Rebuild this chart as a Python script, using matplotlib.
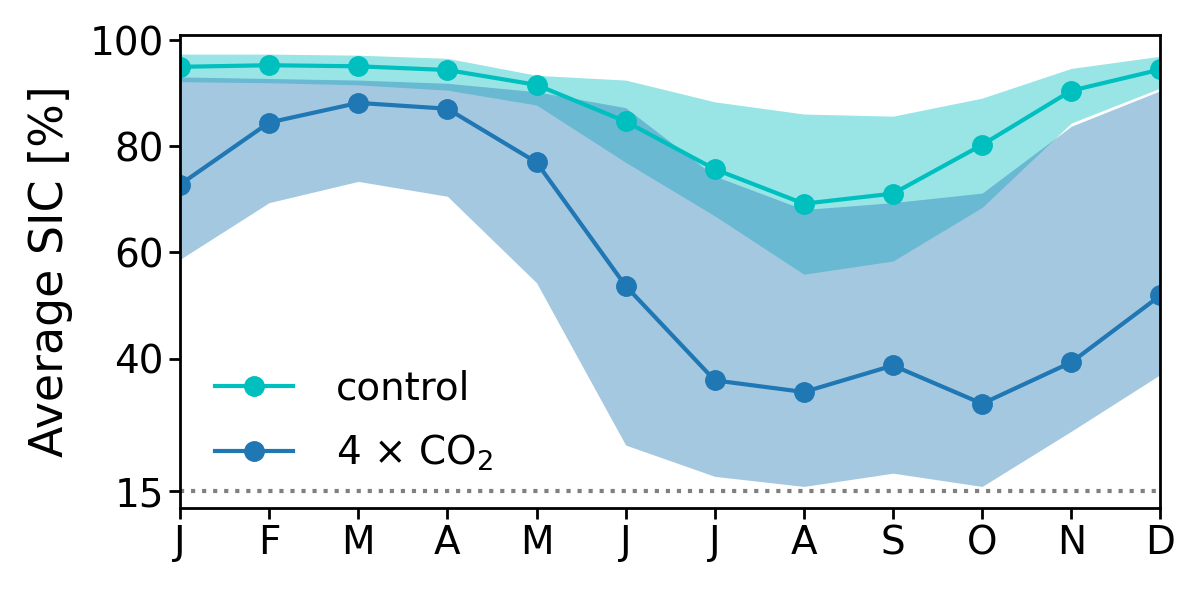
import numpy as np
import matplotlib.pyplot as plt

months = ['J', 'F', 'M', 'A', 'M', 'J', 'J', 'A', 'S', 'O', 'N', 'D']

ctrl_mean = [95.0, 95.3, 95.1, 94.4, 91.6, 84.7, 75.7, 69.2, 71.1, 80.3, 90.5, 94.5]
ctrl_hi = [97.4, 97.4, 97.2, 96.6, 93.4, 92.5, 88.4, 86.1, 85.7, 89.1, 94.7, 97.0]
ctrl_lo = [92.2, 92.0, 91.6, 90.6, 87.8, 77.0, 66.9, 55.9, 58.4, 68.5, 84.4, 91.0]

co2_mean = [72.8, 84.5, 88.2, 87.1, 77.0, 53.7, 35.9, 33.7, 38.7, 31.5, 39.3, 51.9]
co2_hi = [93.1, 92.8, 92.5, 91.9, 90.3, 87.3, 74.4, 68.1, 69.4, 71.2, 83.8, 90.5]
co2_lo = [58.7, 69.4, 73.4, 70.6, 54.3, 23.7, 17.8, 15.9, 18.4, 15.9, 26.3, 37.0]

x = np.arange(len(months))

fig = plt.figure(figsize=(12, 5.93), dpi=100)
ax = fig.add_axes([0.15, 0.143, 0.817, 0.798])

ax.fill_between(x, ctrl_lo, ctrl_hi, color='c', alpha=0.4, lw=0)
ax.fill_between(x, co2_lo, co2_hi, color='tab:blue', alpha=0.4, lw=0)
ax.plot(x, ctrl_mean, 'o-', color='c', lw=3, ms=14, label='control')
ax.plot(x, co2_mean, 'o-', color='tab:blue', lw=3, ms=14, label=r'4 $\times$ CO$_2$')
ax.axhline(15, color='gray', ls=':', lw=3)

ax.set_xlim(0, 11)
ax.set_ylim(11.8, 101)
ax.set_xticks(x)
ax.set_xticklabels(months)
ax.set_yticks([15, 40, 60, 80, 100])
ax.tick_params(labelsize=28, width=2, length=8)
for s in ax.spines.values():
    s.set_linewidth(2)
ax.set_ylabel('Average SIC [%]', fontsize=33, labelpad=12)
ax.legend(loc='lower left', bbox_to_anchor=(0.0, 0.0), frameon=False, fontsize=28,
          handlelength=2.0, handletextpad=1.1, labelspacing=0.65)

fig.savefig('out.png', dpi=100)
